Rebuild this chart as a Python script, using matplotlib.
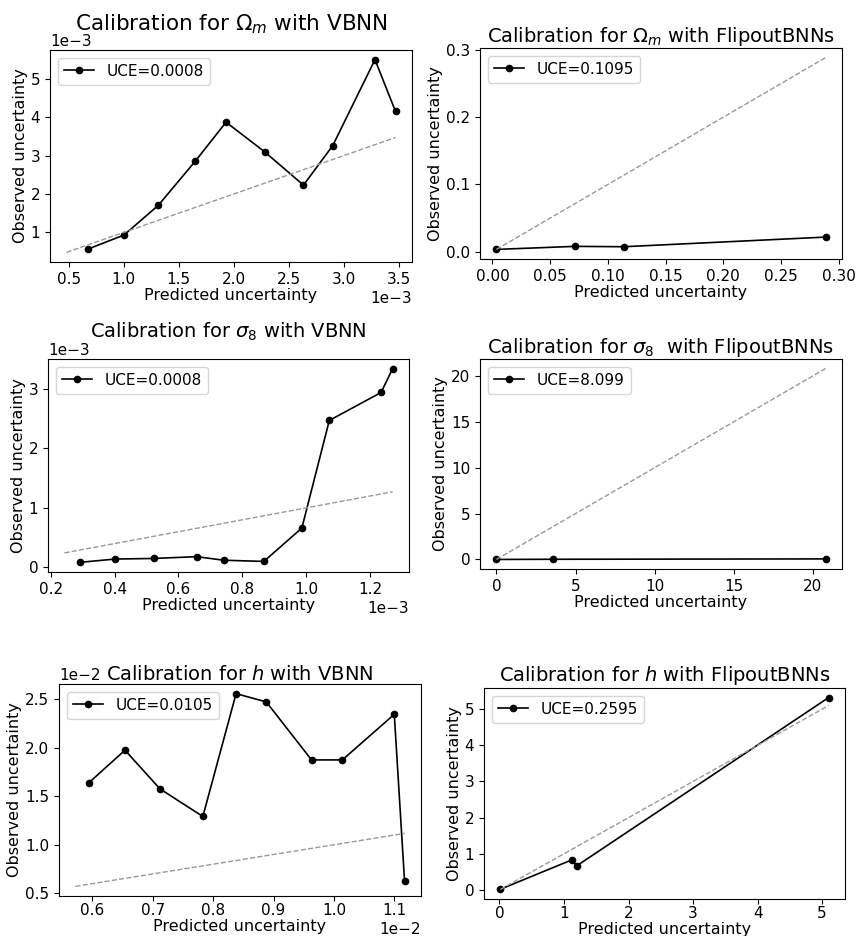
import numpy as np
import matplotlib
matplotlib.use("Agg")
import matplotlib.pyplot as plt

# ---- data ----
# Omega_m, VBNN
om_vbnn_pred = [0.675e-3, 1.001e-3, 1.312e-3, 1.648e-3, 1.929e-3, 2.279e-3,
                2.633e-3, 2.899e-3, 3.283e-3, 3.470e-3]
om_vbnn_obs = [0.565e-3, 0.93e-3, 1.70e-3, 2.85e-3, 3.87e-3, 3.10e-3,
               2.23e-3, 3.26e-3, 5.50e-3, 4.15e-3]
om_vbnn_ideal = [0.478e-3, 3.470e-3]

# Omega_m, FlipoutBNNs
om_flip_pred = [0.0035, 0.0711, 0.1139, 0.2885]
om_flip_obs = [0.0035, 0.0080, 0.0075, 0.0218]
om_flip_ideal = [0.0035, 0.2885]

# sigma_8, VBNN
s8_vbnn_pred = [0.292e-3, 0.402e-3, 0.522e-3, 0.657e-3, 0.742e-3, 0.867e-3,
                0.986e-3, 1.072e-3, 1.234e-3, 1.270e-3]
s8_vbnn_obs = [0.085e-3, 0.14e-3, 0.15e-3, 0.18e-3, 0.12e-3, 0.10e-3,
               0.66e-3, 2.47e-3, 2.94e-3, 3.34e-3]
s8_vbnn_ideal = [0.243e-3, 1.270e-3]

# sigma_8, FlipoutBNNs
s8_flip_pred = [0.0, 3.55, 20.8]
s8_flip_obs = [0.0, 0.02, 0.06]
s8_flip_ideal = [0.0, 20.8]

# h, VBNN
h_vbnn_pred = [0.594e-2, 0.654e-2, 0.712e-2, 0.783e-2, 0.838e-2, 0.888e-2,
               0.963e-2, 1.014e-2, 1.100e-2, 1.117e-2]
h_vbnn_obs = [1.637e-2, 1.973e-2, 1.575e-2, 1.291e-2, 2.555e-2, 2.470e-2,
              1.873e-2, 1.873e-2, 2.342e-2, 0.627e-2]
h_vbnn_ideal = [0.572e-2, 1.117e-2]

# h, FlipoutBNNs
h_flip_pred = [0.015, 1.12, 1.20, 5.10]
h_flip_obs = [0.02, 0.83, 0.67, 5.32]
h_flip_ideal = [0.015, 5.10]

panels = [
    (r"Calibration for $\Omega_m$ with VBNN", om_vbnn_pred, om_vbnn_obs, om_vbnn_ideal, "UCE=0.0008", True),
    (r"Calibration for $\Omega_m$ with FlipoutBNNs", om_flip_pred, om_flip_obs, om_flip_ideal, "UCE=0.1095", False),
    (r"Calibration for $\sigma_8$ with VBNN", s8_vbnn_pred, s8_vbnn_obs, s8_vbnn_ideal, "UCE=0.0008", True),
    (r"Calibration for $\sigma_8$  with FlipoutBNNs", s8_flip_pred, s8_flip_obs, s8_flip_ideal, "UCE=8.099", False),
    (r"Calibration for $h$ with VBNN", h_vbnn_pred, h_vbnn_obs, h_vbnn_ideal, "UCE=0.0105", True),
    (r"Calibration for $h$ with FlipoutBNNs", h_flip_pred, h_flip_obs, h_flip_ideal, "UCE=0.2595", False),
]

# axes boxes in pixels (left, top, right, bottom) of an 856x936 canvas
W, H = 856, 936
boxes = [
    (50, 50, 412, 262),
    (480, 48, 842, 259),
    (48, 359, 409, 572),
    (480, 359, 842, 569),
    (59, 684, 421, 896),
    (484, 688, 845, 899),
]
# per-panel title size / vertical position, x tick pad, x-label pad
title_sizes = [15.5, 14, 14, 14, 14, 14]
title_y = [1.055, 0.99, 1.06, 0.99, 0.981, 0.994]
xtick_pads = [3.5, 3.5, 3.5, 3.5, 1.5, 1.5]
xlabel_pads = [1, 1, 1, 1, 0.5, 0.5]

plt.rcParams['font.size'] = 11
plt.rcParams['axes.labelsize'] = 11.5

fig = plt.figure(figsize=(W / 100, H / 100), dpi=100)

for i, ((title, pred, obs, ideal, uce, sci), (l, t, r, b)) in enumerate(zip(panels, boxes)):
    ax = fig.add_axes([l / W, 1 - b / H, (r - l) / W, (b - t) / H])
    ax.plot(pred, obs, '-o', color='black', lw=1.2, markersize=4.5, label=uce)
    ax.plot(ideal, ideal, '--', color='#999999', lw=1.0)
    ax.set_title(title, fontsize=title_sizes[i], y=title_y[i])
    ax.tick_params(axis='x', pad=xtick_pads[i])
    ax.set_xlabel('Predicted uncertainty', labelpad=xlabel_pads[i])
    ax.set_ylabel('Observed uncertainty', labelpad=2)
    if sci:
        ax.ticklabel_format(style='sci', axis='both', scilimits=(0, 0))
    ax.legend(loc='upper left', fontsize=11)

fig.savefig('out.png', dpi=100)
